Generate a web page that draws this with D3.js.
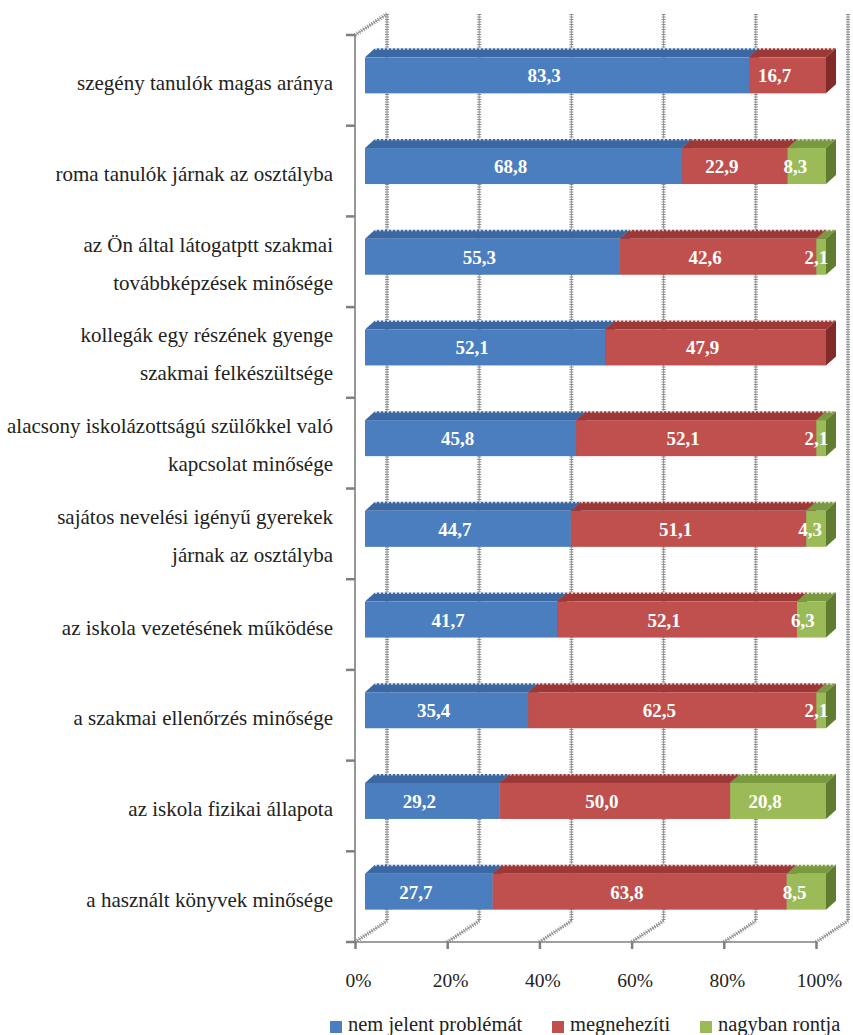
<!DOCTYPE html>
<html>
<head>
<meta charset="utf-8">
<script src="https://cdn.jsdelivr.net/npm/d3@7"></script>
<style>
  html, body { margin: 0; padding: 0; background: #fff; }
  svg { display: block; }
</style>
</head>
<body>
<svg id="chart" width="853" height="1035" font-family="'Liberation Serif', 'DejaVu Serif', serif"></svg>
<script>
// values, top bar first
const categories = [
  "szegény tanulók magas aránya",
  "roma tanulók járnak az osztályba",
  "az Ön által látogatptt szakmai\ntovábbképzések minősége",
  "kollegák egy részének gyenge\nszakmai felkészültsége",
  "alacsony iskolázottságú szülőkkel való\nkapcsolat minősége",
  "sajátos nevelési igényű gyerekek\njárnak az osztályba",
  "az iskola vezetésének működése",
  "a szakmai ellenőrzés minősége",
  "az iskola fizikai állapota",
  "a használt könyvek minősége"
];
const seriesNames = ["nem jelent problémát", "megnehezíti", "nagyban rontja"];
const nemJelent = [83.3, 68.8, 55.3, 52.1, 45.8, 44.7, 41.7, 35.4, 29.2, 27.7];
const megnehezit = [16.7, 22.9, 42.6, 47.9, 52.1, 51.1, 52.1, 62.5, 50.0, 63.8];
const nagybanRontja = [0, 8.3, 2.1, 0, 2.1, 4.3, 6.3, 2.1, 20.8, 8.5];
const tickValues = [0, 20, 40, 60, 80, 100];

const series = [nemJelent, megnehezit, nagybanRontja];
const faceColors = ["#4a7ebf", "#c0504d", "#9bbb59"];
const topColors = ["#3b67a3", "#9c3936", "#7a9a40"];
const sideColors = ["#2e5488", "#832b29", "#5f7c30"];
const FONT = "'Liberation Serif', 'DejaVu Serif', serif";

const svg = d3.select("#chart");

// front plane of the plot and the 3D offset of the back wall
const x = d3.scaleLinear().domain([0, 100]).range([355, 816]);
const y = d3.scaleBand().domain(d3.range(categories.length)).range([35, 942]);
const DX = 32, DY = -21;
const barOff = { x: 10, y: -5 };     // bar front face sits a bit inside the box
const barDepth = { x: 10, y: -9 };
const barH = 36;

const yTop = y.range()[0], yBot = y.range()[1];

// back wall gridlines and floor diagonals (textured grey)
function texLine(g, x1, y1, x2, y2) {
  g.append("line").attr("x1", x1).attr("y1", y1).attr("x2", x2).attr("y2", y2)
    .attr("stroke", "#9a9a9a").attr("stroke-width", 1);
  g.append("line").attr("x1", x1).attr("y1", y1).attr("x2", x2).attr("y2", y2)
    .attr("stroke", "#8c8c8c").attr("stroke-width", 4).attr("stroke-dasharray", "1,1.5");
}

const grid = svg.append("g");
tickValues.forEach(v => {
  texLine(grid, x(v) + DX, yTop + DY, x(v) + DX, yBot + DY);
  texLine(grid, x(v), yBot, x(v) + DX, yBot + DY);
});
texLine(grid, x(0), yTop, x(0) + DX, yTop + DY);

// left axis (front edge) with ticks on category boundaries
const axisG = svg.append("g").attr("stroke", "#7f7f7f").attr("stroke-width", 1.6);
axisG.append("line").attr("x1", x(0)).attr("y1", yTop).attr("x2", x(0)).attr("y2", yBot);
const bounds = y.domain().map(i => y(i)).concat([yBot]);
axisG.selectAll(".ytick").data(bounds).join("line")
  .attr("x1", x(0) - 9).attr("x2", x(0))
  .attr("y1", d => d).attr("y2", d => d)
  .attr("stroke-width", 2.5);

// bottom axis
const xAxis = d3.axisBottom(x)
  .tickValues(tickValues)
  .tickFormat(d => d + "%")
  .tickSize(7)
  .tickSizeOuter(0)
  .tickPadding(24);
const xg = svg.append("g").attr("transform", `translate(0,${yBot})`).call(xAxis)
  .attr("font-family", FONT);
xg.select(".domain").attr("stroke", "#7f7f7f").attr("stroke-width", 1.6)
  .attr("d", `M${x(0) - 6},0H${x(100)}`);
xg.selectAll(".tick line").attr("stroke", "#7f7f7f").attr("stroke-width", 2.5);
xg.selectAll(".tick text").attr("fill", "#222").attr("x", 3)
  .attr("font-family", FONT).style("font-size", "19.5px");

// bars
const bars = svg.append("g");
categories.forEach((cat, i) => {
  const total = d3.sum(series, s => s[i]);
  const cy = y(i) + y.bandwidth() / 2 + barOff.y;
  const top = cy - barH / 2, bot = cy + barH / 2;
  let acc = 0;
  series.forEach((s, k) => {
    const v = s[i];
    if (!v) return;
    const x0 = x(acc / total * 100) + barOff.x;
    acc += v;
    const x1 = x(acc / total * 100) + barOff.x;
    const dx = barDepth.x, dy = barDepth.y;
    // top face
    bars.append("path")
      .attr("d", `M${x0},${top}L${x0 + dx},${top + dy}L${x1 + dx},${top + dy}L${x1},${top}Z`)
      .attr("fill", topColors[k]);
    // serrated back edge
    bars.append("line")
      .attr("x1", x0 + dx).attr("x2", x1 + dx)
      .attr("y1", top + dy + 0.5).attr("y2", top + dy + 0.5)
      .attr("stroke", "#fff").attr("stroke-width", 2).attr("stroke-dasharray", "2,2")
      .attr("opacity", 0.7);
    // front face
    bars.append("rect")
      .attr("x", x0).attr("y", top).attr("width", x1 - x0).attr("height", barH)
      .attr("fill", faceColors[k]);
    // right side face
    bars.append("path")
      .attr("d", `M${x1},${top}L${x1 + dx},${top + dy}L${x1 + dx},${bot + dy}L${x1},${bot}Z`)
      .attr("fill", sideColors[k]);
  });
});

// data labels, nudged left like the original
const labels = svg.append("g");
categories.forEach((cat, i) => {
  const total = d3.sum(series, s => s[i]);
  const cy = y(i) + y.bandwidth() / 2 + barOff.y;
  let acc = 0;
  series.forEach((s, k) => {
    const v = s[i];
    if (!v) return;
    const x0 = x(acc / total * 100), x1 = x((acc + v) / total * 100);
    acc += v;
    const w = x1 - x0;
    const shift = Math.min(13, w * 0.3);
    labels.append("text")
      .attr("x", (x0 + x1) / 2 + barOff.x - shift - (w < 15 ? 2 : 0))
      .attr("y", cy + 7)
      .attr("text-anchor", "middle")
      .attr("fill", "#fff")
      .attr("font-weight", "bold")
      .attr("font-family", FONT)
      .style("font-size", "19px")
      .text(d3.format(".1f")(v).replace(".", ","));
  });
});

// category labels
const catG = svg.append("g");
categories.forEach((cat, i) => {
  const lines = cat.split("\n");
  const cy = y(i) + y.bandwidth() / 2;
  const base = lines.length === 1 ? [cy + 10] : [cy - 10, cy + 28];
  lines.forEach((ln, j) => {
    catG.append("text")
      .attr("x", 333).attr("y", base[j])
      .attr("text-anchor", "end")
      .attr("fill", "#222")
      .attr("font-family", FONT)
      .style("font-size", "21px")
      .text(ln);
  });
});

// legend
const legendX = [330, 552, 700];
const legend = svg.append("g");
seriesNames.forEach((name, k) => {
  legend.append("rect").attr("x", legendX[k]).attr("y", 1021)
    .attr("width", 12).attr("height", 12).attr("fill", faceColors[k]);
  legend.append("text").attr("x", legendX[k] + 18).attr("y", 1031)
    .attr("fill", "#222").attr("font-family", FONT)
    .style("font-size", "20.5px").text(name);
});
</script>
</body>
</html>
